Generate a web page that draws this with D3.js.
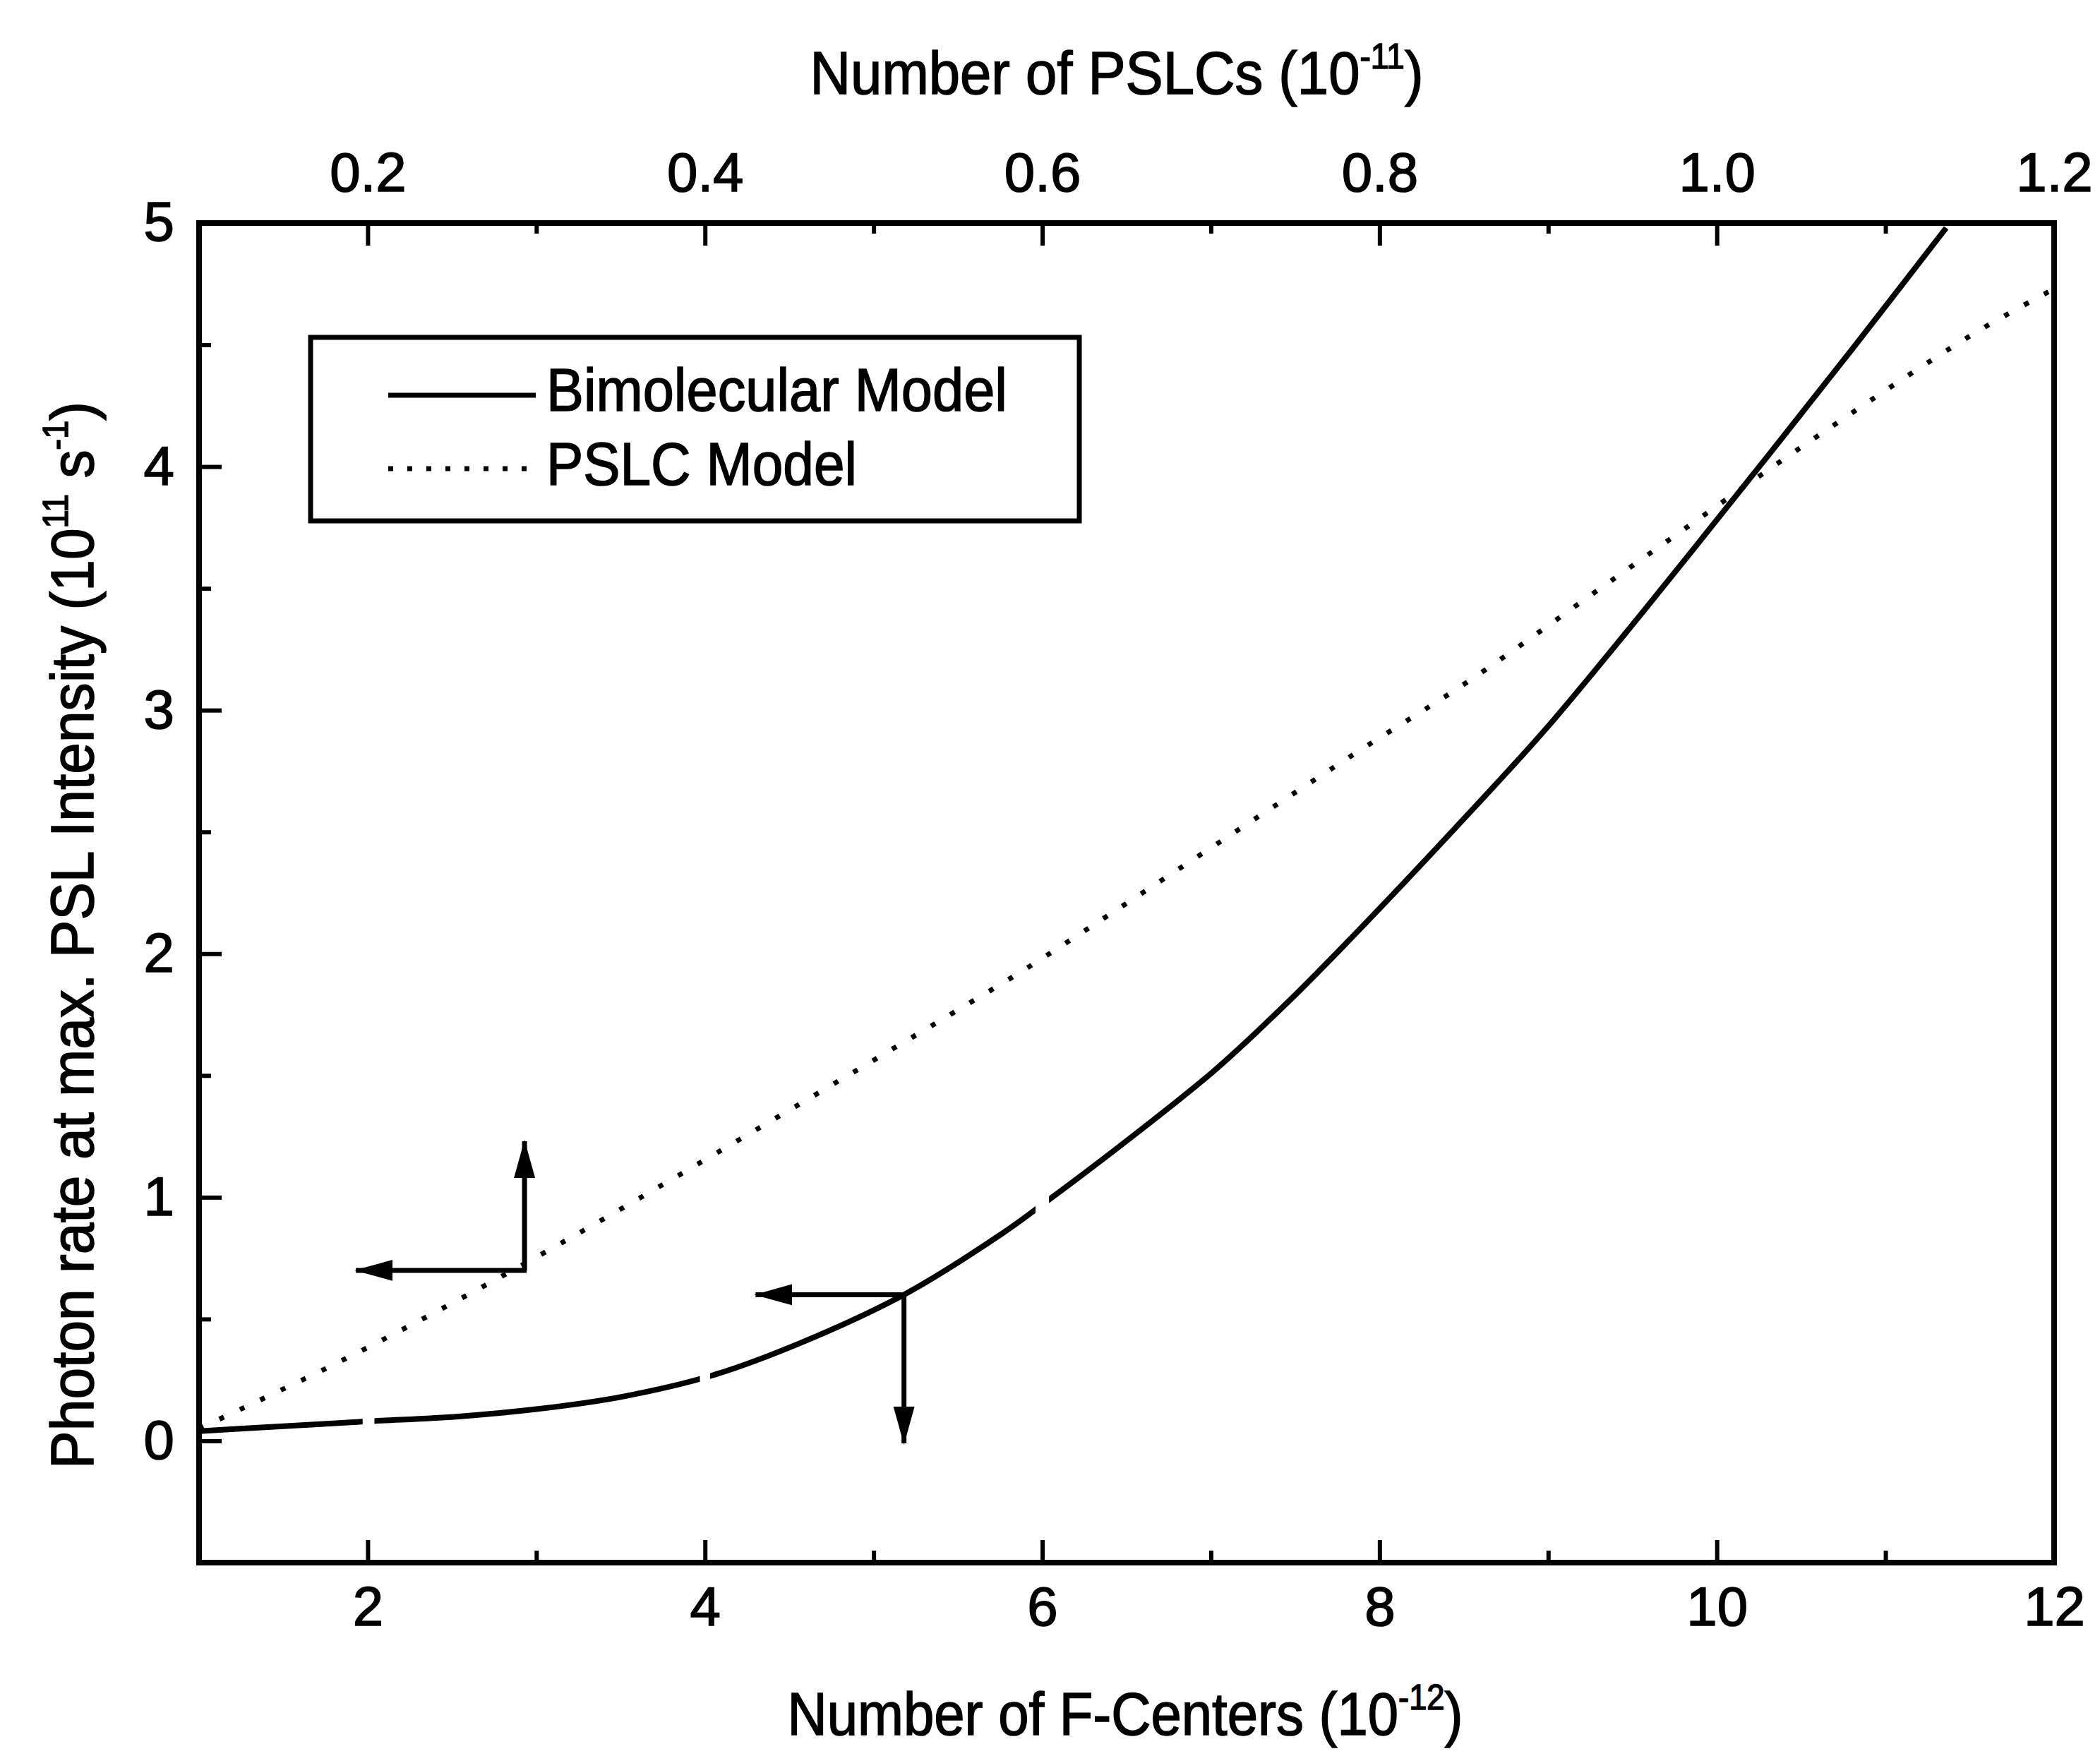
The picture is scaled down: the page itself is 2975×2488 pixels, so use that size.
<!DOCTYPE html>
<html>
<head>
<meta charset="utf-8">
<script src="https://cdn.jsdelivr.net/npm/d3@7"></script>
<style>
  body { margin: 0; background: #fff; }
  text { font-family: "Liberation Sans", Arial, sans-serif; fill: #000; stroke: #000; stroke-width: 1.6px; }
</style>
</head>
<body>
<div id="chart"></div>
<script>
// Bimolecular model (solid) : F-centers (1e-12) vs photon rate (1e11 s^-1)
var bimolX = [1.0, 1.5, 2.0, 2.54, 3.0, 3.5, 4.05, 4.56, 5.18, 5.76, 6.0, 6.46, 7.02, 7.44, 7.77, 8.36, 8.97, 9.44, 9.86, 10.31, 10.8, 11.36];
var bimolY = [0.04, 0.06, 0.08, 0.10, 0.13, 0.18, 0.27, 0.40, 0.60, 0.85, 0.97, 1.21, 1.52, 1.79, 2.02, 2.45, 2.91, 3.30, 3.66, 4.05, 4.48, 4.98];
// small breaks in the printed solid curve
var bimolGaps = [[1.97, 2.04], [3.97, 4.03], [5.96, 6.04]];

// PSLC model (dotted)
var pslcX = [1.0, 1.79, 2.46, 3.04, 3.72, 5.79, 6.02, 7.85, 8.53, 9.35, 9.80, 10.48, 11.51, 12.0];
var pslcY = [0.05, 0.31, 0.55, 0.77, 1.04, 1.89, 1.99, 2.82, 3.12, 3.52, 3.74, 4.07, 4.54, 4.73];

// annotation arrows: corner, horizontal tip (x) and vertical tip (y)
var arrowCornerX = [2.93, 5.18];
var arrowCornerY = [0.70, 0.60];
var arrowTipX = [1.93, 4.30];
var arrowTipY = [1.23, -0.01];

// ticks
var xMajor = [2, 4, 6, 8, 10, 12];
var xMinor = [3, 5, 7, 9, 11];
var topMajor = [0.2, 0.4, 0.6, 0.8, 1.0, 1.2];
var topLabels = ["0.2", "0.4", "0.6", "0.8", "1.0", "1.2"];
var topMinor = [0.3, 0.5, 0.7, 0.9, 1.1];
var yMajor = [0, 1, 2, 3, 4, 5];
var yMinor = [0.5, 1.5, 2.5, 3.5, 4.5];

var legendNames = ["Bimolecular Model", "PSLC Model"];

var svgWidth = 2975;
var svgHeight = 2488;
var margin = { top: 316, right: 65, bottom: 274, left: 282 };
var width = svgWidth - margin.left - margin.right;
var height = svgHeight - margin.top - margin.bottom;

var svg = d3.select("#chart")
  .append("svg")
  .attr("width", svgWidth)
  .attr("height", svgHeight)
  .style("background", "#fff");

var chart = svg.append("g")
  .attr("transform", `translate(${margin.left}, ${margin.top})`);

var x = d3.scaleLinear().domain([1, 12]).range([0, width]);
var xTop = d3.scaleLinear().domain([0.1, 1.2]).range([0, width]);
var y = d3.scaleLinear().domain([-0.5, 5]).range([height, 0]);

var tickFont = 78;

function styleAxis(g) {
  g.select(".domain").remove();
  g.selectAll("line").attr("stroke", "#000").attr("stroke-width", 6);
  g.selectAll("text").attr("font-size", tickFont).attr("fill", "#000");
}

// bottom axis
chart.append("g")
  .attr("transform", `translate(0, ${height})`)
  .call(d3.axisBottom(x).tickValues(xMajor).tickSize(-32).tickPadding(34).tickFormat(d3.format("d")))
  .call(styleAxis);
chart.append("g")
  .attr("transform", `translate(0, ${height})`)
  .call(d3.axisBottom(x).tickValues(xMinor).tickSize(-17).tickFormat(""))
  .call(styleAxis);

// top axis
chart.append("g")
  .call(d3.axisTop(xTop).tickValues(topMajor).tickSize(-32).tickPadding(45).tickFormat((d, i) => topLabels[i]))
  .call(styleAxis);
chart.append("g")
  .call(d3.axisTop(xTop).tickValues(topMinor).tickSize(-15).tickFormat(""))
  .call(styleAxis);

// left axis
chart.append("g")
  .call(d3.axisLeft(y).tickValues(yMajor).tickSize(-32).tickPadding(35).tickFormat(d3.format("d")))
  .call(styleAxis);
chart.append("g")
  .call(d3.axisLeft(y).tickValues(yMinor).tickSize(-17).tickFormat(""))
  .call(styleAxis);

// frame
chart.append("rect")
  .attr("x", 0).attr("y", 0)
  .attr("width", width).attr("height", height)
  .attr("fill", "none")
  .attr("stroke", "#000")
  .attr("stroke-width", 8);

// clip + gap mask for curves
var defs = svg.append("defs");
defs.append("clipPath").attr("id", "plotClip")
  .append("rect").attr("width", width).attr("height", height);

var mask = defs.append("mask").attr("id", "gapMask")
  .attr("maskUnits", "userSpaceOnUse")
  .attr("x", -50).attr("y", -50).attr("width", width + 100).attr("height", height + 100);
mask.append("rect").attr("x", -50).attr("y", -50)
  .attr("width", width + 100).attr("height", height + 100).attr("fill", "#fff");
mask.selectAll(".gap")
  .data(bimolGaps)
  .enter()
  .append("rect")
  .attr("x", d => x(d[0]))
  .attr("width", d => x(d[1]) - x(d[0]))
  .attr("y", -50)
  .attr("height", height + 100)
  .attr("fill", "#000");

var line = d3.line()
  .x(d => x(d[0]))
  .y(d => y(d[1]))
  .curve(d3.curveCatmullRom.alpha(0.5));

var curves = chart.append("g").attr("clip-path", "url(#plotClip)");

curves.append("path")
  .datum(pslcX.map((v, i) => [v, pslcY[i]]))
  .attr("d", line)
  .attr("fill", "none")
  .attr("stroke", "#000")
  .attr("stroke-width", 7)
  .attr("stroke-dasharray", "7 25");

curves.append("path")
  .datum(bimolX.map((v, i) => [v, bimolY[i]]))
  .attr("d", line)
  .attr("fill", "none")
  .attr("stroke", "#000")
  .attr("stroke-width", 8)
  .attr("mask", "url(#gapMask)");

// arrow heads
defs.append("marker")
  .attr("id", "head")
  .attr("markerUnits", "userSpaceOnUse")
  .attr("viewBox", "0 -16 54 32")
  .attr("refX", 52).attr("refY", 0)
  .attr("markerWidth", 54).attr("markerHeight", 32)
  .attr("orient", "auto")
  .append("path")
  .attr("d", "M0,-15L54,0L0,15Z")
  .attr("fill", "#000");

var arrows = chart.append("g");
arrowCornerX.forEach(function(cx, i) {
  arrows.append("line")
    .attr("x1", x(cx) + 3).attr("y1", y(arrowCornerY[i]))
    .attr("x2", x(arrowTipX[i])).attr("y2", y(arrowCornerY[i]))
    .attr("stroke", "#000").attr("stroke-width", 7)
    .attr("marker-end", "url(#head)");
  arrows.append("line")
    .attr("x1", x(cx)).attr("y1", y(arrowCornerY[i]))
    .attr("x2", x(cx)).attr("y2", y(arrowTipY[i]))
    .attr("stroke", "#000").attr("stroke-width", 7)
    .attr("marker-end", "url(#head)");
});

// text fitting helper: squeeze text horizontally to a measured width
function fitGroup(g, textSel, targetWidth, transform) {
  var w = textSel.node().getBBox().width;
  g.attr("transform", `${transform} scale(${targetWidth / w}, 1)`);
}

// legend
var legend = svg.append("g");
legend.append("rect")
  .attr("x", 440).attr("y", 478)
  .attr("width", 1089).attr("height", 260)
  .attr("fill", "none")
  .attr("stroke", "#000")
  .attr("stroke-width", 7);
legend.append("line")
  .attr("x1", 550).attr("x2", 759).attr("y1", 560).attr("y2", 560)
  .attr("stroke", "#000").attr("stroke-width", 7);
legend.append("line")
  .attr("x1", 550).attr("x2", 752).attr("y1", 664).attr("y2", 664)
  .attr("stroke", "#000").attr("stroke-width", 7)
  .attr("stroke-dasharray", "7 20");

var legendPos = [[774, 582, 653], [774, 687, 440]];
legendNames.forEach(function(name, i) {
  var g = legend.append("g");
  var t = g.append("text").attr("font-size", 86).text(name);
  fitGroup(g, t, legendPos[i][2], `translate(${legendPos[i][0]}, ${legendPos[i][1]})`);
});

// axis titles with superscripts
var titleFont = 86;
function titleWithSup(g, parts) {
  var t = g.append("text").attr("text-anchor", "middle").attr("font-size", titleFont);
  var raised = false;
  parts.forEach(function(p) {
    var ts = t.append("tspan").text(p.s);
    if (p.sup) {
      ts.attr("font-size", 50).attr("dy", raised ? 0 : -36);
      raised = true;
    } else if (raised) {
      ts.attr("dy", 36);
      raised = false;
    }
  });
  return t;
}

var gTop = svg.append("g");
var tTop = titleWithSup(gTop, [{ s: "Number of PSLCs (10" }, { s: "-11", sup: true }, { s: ")" }]);
fitGroup(gTop, tTop, 869, "translate(1582, 133)");

var gBottom = svg.append("g");
var tBottom = titleWithSup(gBottom, [{ s: "Number of F-Centers (10" }, { s: "-12", sup: true }, { s: ")" }]);
fitGroup(gBottom, tBottom, 957, "translate(1594, 2458)");

var gLeft = svg.append("g");
var tLeft = titleWithSup(gLeft, [{ s: "Photon rate at max. PSL Intensity (10" }, { s: "11", sup: true }, { s: " s" }, { s: "-1", sup: true }, { s: ")" }]);
fitGroup(gLeft, tLeft, 1512, "translate(132, 1325) rotate(-90)");
</script>
</body>
</html>
